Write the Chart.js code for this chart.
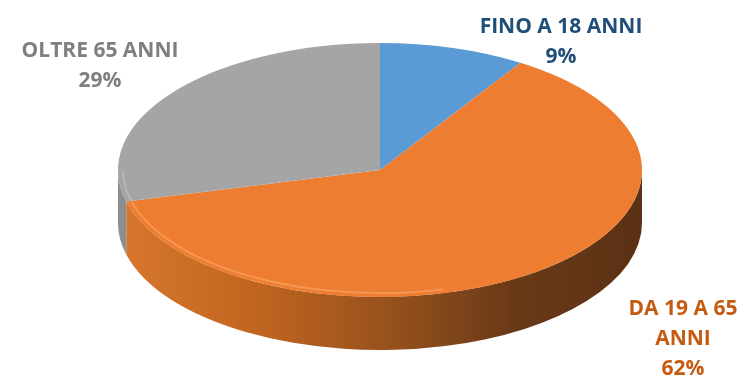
<!DOCTYPE html>
<html>
<head>
<meta charset="utf-8">
<script src="https://cdn.jsdelivr.net/npm/chart.js@4"></script>
<style>
  html, body { margin: 0; padding: 0; background: #fff; }
  #wrap { width: 751px; height: 383px; position: relative; }
</style>
</head>
<body>
<div id="wrap"><canvas id="pieChart"></canvas></div>
<script>
// --- data ---
const categories = ["FINO A 18 ANNI", "DA 19 A 65 ANNI", "OLTRE 65 ANNI"];
const percentages = [9, 62, 29];

// --- styles ---
const sliceColors = ["#5b9bd5", "#ed7d31", "#a5a5a5"];
const labelColors = ["#1f4e79", "#c55a11", "#7f7f7f"];
const sideStops = [
    [[0, "#6f9fd0"], [1, "#3d6a96"]],
    [[0, "#d8772f"], [0.25, "#c2661f"], [0.5, "#9a531d"], [0.75, "#6a3a17"], [1, "#5a3114"]],
    [[0, "#8e8e8e"], [1, "#6a6a6a"]]
];
const rimColors = ["rgba(150, 195, 240, 0.5)", "rgba(255, 170, 110, 0.55)", "rgba(200, 200, 200, 0.5)"];
// ellipse of the top face and thickness of the disc
const CX = 380, CY = 170, RX = 262, RY = 127, DEPTH = 53;
// label anchors (centre x, first baseline) and wrap width
const labelLayout = [
    { x: 561, y: 33, wrap: 220 },
    { x: 683, y: 315, wrap: 130 },
    { x: 100, y: 57, wrap: 220 }
];
const LINE_H = 30;
const FONT = "bold 21px 'Open Sans', 'DejaVu Sans', sans-serif";

function clipRange(s, e, lo, hi) {
    // parts of [s,e] (any turn) that fall inside [lo, hi]
    const out = [];
    for (let k = -1; k <= 1; k++) {
        const a = Math.max(s + k * 2 * Math.PI, lo);
        const b = Math.min(e + k * 2 * Math.PI, hi);
        if (b > a) out.push([a, b]);
    }
    return out;
}

function wrapText(ctx, text, maxW) {
    const words = text.split(" ");
    const lines = [];
    let cur = "";
    words.forEach(w => {
        const test = cur ? cur + " " + w : w;
        if (ctx.measureText(test).width > maxW && cur) {
            lines.push(cur);
            cur = w;
        } else {
            cur = test;
        }
    });
    if (cur) lines.push(cur);
    return lines;
}

const pie3d = {
    id: "pie3d",
    beforeDatasetsDraw(chart) {
        const ctx = chart.ctx;
        const arcs = chart.getDatasetMeta(0).data;
        const first = arcs[0];

        // side walls of the disc (only the front half shows)
        arcs.forEach((arc, i) => {
            clipRange(arc.startAngle, arc.endAngle, 0, Math.PI).forEach(([a, b]) => {
                const grad = ctx.createLinearGradient(CX - RX, 0, CX + RX, 0);
                sideStops[i].forEach(st => grad.addColorStop(st[0], st[1]));
                ctx.beginPath();
                ctx.ellipse(CX, CY, RX, RY, 0, a, b);
                ctx.lineTo(CX + RX * Math.cos(b), CY + DEPTH + RY * Math.sin(b));
                ctx.ellipse(CX, CY + DEPTH, RX, RY, 0, b, a, true);
                ctx.closePath();
                ctx.fillStyle = grad;
                ctx.fill();
            });
        });

        // squash the library's pie into the top face ellipse
        ctx.save();
        ctx.translate(CX, CY);
        ctx.scale(RX / first.outerRadius, RY / first.outerRadius);
        ctx.translate(-first.x, -first.y);
    },
    afterDatasetsDraw(chart) {
        const ctx = chart.ctx;
        ctx.restore();
        const arcs = chart.getDatasetMeta(0).data;

        // soft bevel highlight on the front-left rim
        ctx.save();
        ctx.lineWidth = 2;
        arcs.forEach((arc, i) => {
            clipRange(arc.startAngle, arc.endAngle, 0.42 * Math.PI, Math.PI).forEach(([a, b]) => {
                ctx.beginPath();
                ctx.ellipse(CX, CY, RX - 5, RY - 4, 0, a, b - 0.01);
                ctx.strokeStyle = rimColors[i];
                ctx.stroke();
            });
        });
        ctx.restore();

        // data labels
        ctx.save();
        ctx.font = FONT;
        ctx.textAlign = "center";
        ctx.textBaseline = "alphabetic";
        const total = percentages.reduce((s, v) => s + v, 0);
        categories.forEach((cat, i) => {
            const pos = labelLayout[i];
            const lines = wrapText(ctx, cat, pos.wrap);
            lines.push(Math.round(percentages[i] / total * 100) + "%");
            ctx.fillStyle = labelColors[i];
            lines.forEach((ln, j) => ctx.fillText(ln, pos.x, pos.y + j * LINE_H));
        });
        ctx.restore();
    }
};

const ctxPie = document.getElementById("pieChart").getContext("2d");
const pieChart = new Chart(ctxPie, {
    type: "pie",
    data: {
        labels: categories,
        datasets: [{
            data: percentages,
            backgroundColor: sliceColors,
            borderWidth: 0,
            hoverOffset: 0,
            clip: false
        }]
    },
    options: {
        responsive: true,
        maintainAspectRatio: false,
        animation: false,
        layout: { padding: 0 },
        plugins: {
            legend: { display: false },
            tooltip: { enabled: false }
        }
    },
    plugins: [pie3d]
});
</script>
</body>
</html>
